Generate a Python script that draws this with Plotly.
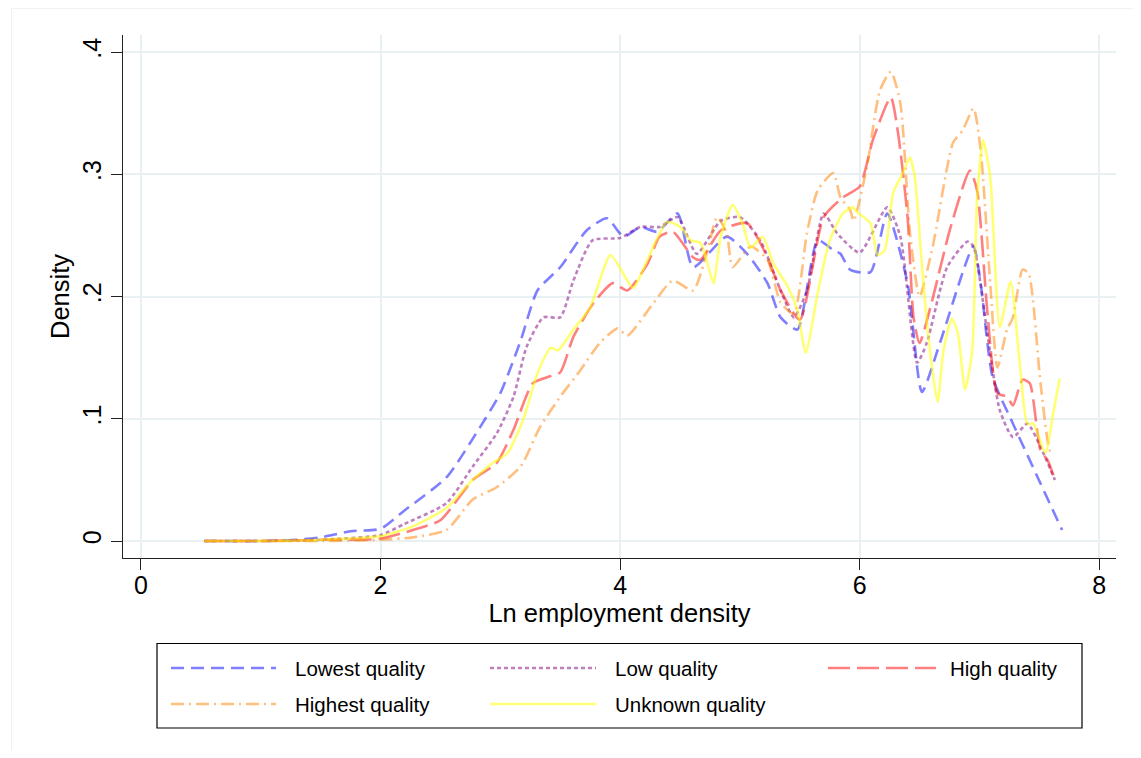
import plotly.graph_objects as go

# ---------------- data ----------------
lowest_x = [0.53, 1.0, 1.3, 1.5, 1.75, 2.0, 2.2, 2.55, 2.83, 3.0, 3.17, 3.31, 3.5, 3.72, 3.89,
            4.03, 4.17, 4.31, 4.48, 4.61, 4.89, 5.06, 5.23, 5.34, 5.48, 5.65, 5.78, 5.84, 5.92,
            6.09, 6.23, 6.40, 6.52, 6.67, 6.95, 7.01, 7.11, 7.28, 7.51, 7.69]
lowest_y = [0.0, 0.0, 0.001, 0.003, 0.008, 0.010, 0.025, 0.052, 0.093, 0.121, 0.164, 0.205, 0.224,
            0.254, 0.264, 0.249, 0.257, 0.253, 0.268, 0.224, 0.249, 0.235, 0.211, 0.183, 0.173,
            0.246, 0.238, 0.235, 0.222, 0.220, 0.268, 0.211, 0.122, 0.162, 0.241, 0.211, 0.134,
            0.096, 0.047, 0.009]

low_x = [0.53, 1.0, 1.5, 2.0, 2.2, 2.55, 2.77, 2.97, 3.11, 3.22, 3.36, 3.5, 3.61, 3.77, 4.0,
         4.17, 4.33, 4.48, 4.64, 4.84, 5.0, 5.17, 5.34, 5.45, 5.56, 5.7, 5.81, 6.0, 6.23, 6.34,
         6.48, 6.56, 6.73, 6.9, 6.95, 7.07, 7.17, 7.28, 7.4, 7.51, 7.63]
low_y = [0.0, 0.0, 0.001, 0.005, 0.014, 0.031, 0.061, 0.088, 0.118, 0.159, 0.183, 0.183, 0.213,
         0.246, 0.248, 0.257, 0.257, 0.265, 0.235, 0.262, 0.265, 0.246, 0.205, 0.183, 0.205,
         0.268, 0.252, 0.236, 0.273, 0.249, 0.146, 0.162, 0.224, 0.245, 0.241, 0.167, 0.107,
         0.085, 0.096, 0.077, 0.050]

high_x = [0.53, 1.0, 1.5, 2.0, 2.27, 2.5, 2.77, 2.97, 3.11, 3.27, 3.39, 3.5, 3.61, 3.78, 3.94,
          4.06, 4.23, 4.33, 4.44, 4.61, 4.67, 4.84, 5.06, 5.23, 5.34, 5.5, 5.7, 5.86, 6.0, 6.11,
          6.26, 6.32, 6.40, 6.45, 6.5, 6.59, 6.76, 6.92, 6.98, 7.07, 7.15, 7.23, 7.28, 7.36,
          7.42, 7.51, 7.57, 7.63]
high_y = [0.0, 0.0, 0.001, 0.002, 0.009, 0.017, 0.050, 0.064, 0.091, 0.129, 0.134, 0.138, 0.167,
          0.195, 0.211, 0.205, 0.227, 0.249, 0.253, 0.232, 0.230, 0.254, 0.260, 0.232, 0.205,
          0.181, 0.265, 0.281, 0.290, 0.328, 0.363, 0.334, 0.265, 0.183, 0.162, 0.191, 0.257,
          0.303, 0.287, 0.183, 0.121, 0.118, 0.111, 0.132, 0.129, 0.074, 0.066, 0.050]

highest_x = [0.53, 1.0, 1.5, 2.0, 2.27, 2.55, 2.77, 2.97, 3.17, 3.33, 3.5, 3.67, 3.83, 3.98, 4.06,
             4.28, 4.44, 4.61, 4.73, 4.81, 4.89, 4.94, 5.09, 5.23, 5.34, 5.45, 5.56, 5.65, 5.78,
             5.84, 5.92, 5.95, 6.06, 6.17, 6.26, 6.34, 6.42, 6.5, 6.61, 6.78, 6.86, 6.95, 7.01,
             7.09, 7.15, 7.23, 7.28, 7.36, 7.41, 7.51, 7.59, 7.62]
highest_y = [0.0, 0.0, 0.0, 0.001, 0.003, 0.009, 0.034, 0.044, 0.061, 0.093, 0.118, 0.140, 0.162,
             0.174, 0.168, 0.195, 0.213, 0.205, 0.238, 0.265, 0.252, 0.224, 0.241, 0.230, 0.195,
             0.186, 0.252, 0.287, 0.301, 0.281, 0.271, 0.262, 0.306, 0.369, 0.384, 0.358, 0.252,
             0.200, 0.241, 0.326, 0.336, 0.354, 0.320, 0.211, 0.142, 0.173, 0.183, 0.222, 0.219,
             0.129, 0.074, 0.074]

unknown_x = [0.53, 1.0, 1.5, 2.0, 2.27, 2.55, 2.77, 2.94, 3.06, 3.19, 3.31, 3.42, 3.48, 3.61, 3.75,
             3.92, 4.06, 4.11, 4.39, 4.5, 4.59, 4.67, 4.73, 4.78, 4.84, 4.94, 5.02, 5.09, 5.19,
             5.28, 5.4, 5.48, 5.55, 5.65, 5.75, 5.86, 5.94, 5.98, 6.09, 6.15, 6.21, 6.28, 6.36,
             6.42, 6.46, 6.51, 6.57, 6.65, 6.7, 6.77, 6.82, 6.88, 6.94, 6.98, 7.03, 7.09, 7.17,
             7.26, 7.34, 7.40, 7.45, 7.55, 7.62, 7.67]
unknown_y = [0.0, 0.0, 0.001, 0.004, 0.012, 0.027, 0.050, 0.064, 0.072, 0.099, 0.137, 0.158, 0.156,
             0.173, 0.191, 0.234, 0.213, 0.207, 0.261, 0.257, 0.246, 0.244, 0.227, 0.211, 0.249,
             0.275, 0.260, 0.240, 0.249, 0.227, 0.208, 0.189, 0.154, 0.203, 0.246, 0.268, 0.273,
             0.269, 0.260, 0.234, 0.238, 0.285, 0.301, 0.314, 0.298, 0.238, 0.170, 0.114, 0.156,
             0.182, 0.170, 0.124, 0.156, 0.279, 0.328, 0.298, 0.175, 0.212, 0.142, 0.096, 0.096,
             0.072, 0.107, 0.133]

series_names = ["Lowest quality", "Low quality", "High quality", "Highest quality", "Unknown quality"]
series_x = [lowest_x, low_x, high_x, highest_x, unknown_x]
series_y = [lowest_y, low_y, high_y, highest_y, unknown_y]

x_ticks = [0, 2, 4, 6, 8]
x_ticklabels = ["0", "2", "4", "6", "8"]
y_ticks = [0, 0.1, 0.2, 0.3, 0.4]
y_ticklabels = ["0", ".1", ".2", ".3", ".4"]

# ---------------- styles ----------------
colors = ["rgba(0,0,255,0.5)", "rgba(128,0,128,0.5)", "rgba(255,0,0,0.5)",
          "rgba(255,128,0,0.5)", "rgba(255,255,0,0.55)"]
dashes = ["13px,7px", "4px,3px", "22px,7px", "13px,5px,2px,5px", "solid"]
FONT = "Arial, 'Liberation Sans', sans-serif"

OFF = 8                      # page body margin
W, H = 1141 - 2 * OFF, 758 - 2 * OFF
PW, PH = 993, 523
L, T = 123 - OFF, 35 - OFF
R, B = W - L - PW, H - T - PH


def px(xp):
    """screen x pixel -> paper fraction"""
    return (xp - OFF - L) / PW


def py(yp):
    """screen y pixel -> paper fraction"""
    return (T + PH - (yp - OFF)) / PH


fig = go.Figure()
for name, xs, ys, c, d in zip(series_names, series_x, series_y, colors, dashes):
    fig.add_trace(go.Scatter(
        x=xs, y=ys, name=name, mode="lines",
        line=dict(color=c, width=2.6, dash=d, shape="spline", smoothing=0.6),
        showlegend=False, hoverinfo="x+y+name"))

shapes = []
annotations = []
# faint outer graph-region frame
shapes.append(dict(type="rect", xref="paper", yref="paper",
                   x0=px(11.5), x1=px(1160), y0=py(8.6), y1=py(780),
                   line=dict(color="#eef2f3", width=1), layer="below"))

# legend box and entries
shapes.append(dict(type="rect", xref="paper", yref="paper",
                   x0=px(157), x1=px(1082), y0=py(643.5), y1=py(728),
                   line=dict(color="black", width=1.2), fillcolor="white"))
cols = [(171, 276, 293), (490, 596, 613), (828, 936, 948)]
rows = [668, 704]
for i, (name, c, d) in enumerate(zip(series_names, colors, dashes)):
    r, k = divmod(i, 3)
    x0, x1, xt = cols[k]
    yr = rows[r]
    shapes.append(dict(type="line", xref="paper", yref="paper",
                       x0=px(x0), x1=px(x1), y0=py(yr), y1=py(yr),
                       line=dict(color=c, width=2.6, dash=d)))
    annotations.append(dict(xref="paper", yref="paper", x=px(xt), y=py(yr),
                            text=name, showarrow=False, xanchor="left", yanchor="middle",
                            font=dict(family=FONT, size=20.5, color="black")))

fig.update_layout(
    width=W, height=H,
    margin=dict(l=L, r=R, t=T, b=B, pad=0),
    paper_bgcolor="white", plot_bgcolor="white",
    font=dict(family=FONT, color="black"),
    shapes=shapes, annotations=annotations,
    showlegend=False,
)
fig.update_xaxes(
    range=[-0.15, 8.14], tickvals=x_ticks, ticktext=x_ticklabels,
    showgrid=True, gridcolor="#e8f0f1", gridwidth=2,
    showline=True, linecolor="#222", linewidth=1.3,
    ticks="outside", ticklen=11, tickwidth=1.3, tickcolor="#222",
    tickfont=dict(size=25, family=FONT), zeroline=False, ticklabelstandoff=-6,
    title=dict(text="Ln employment density", font=dict(size=25.5, family=FONT), standoff=4),
)
fig.update_yaxes(
    range=[-0.0139, 0.414], tickvals=y_ticks, ticktext=y_ticklabels, tickangle=-90,
    showgrid=True, gridcolor="#e8f0f1", gridwidth=2,
    showline=True, linecolor="#222", linewidth=1.3,
    ticks="outside", ticklen=11, tickwidth=1.3, tickcolor="#222",
    tickfont=dict(size=25, family=FONT), zeroline=False,
    title=dict(text="Density", font=dict(size=25.5, family=FONT), standoff=0),
)

fig.write_html("out.html")
